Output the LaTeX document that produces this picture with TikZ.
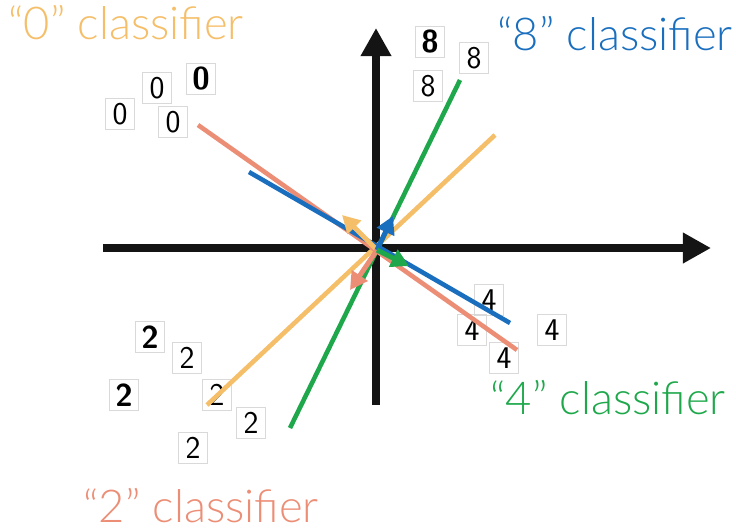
\documentclass[tikz,border=0pt]{standalone}
\usepackage{fontspec}
\IfFontExistsTF{Lato Light}{\setmainfont{Lato Light}}{\setmainfont{Lato}}
\usetikzlibrary{arrows.meta,positioning}
\definecolor{zeroc}{RGB}{245,190,105}
\definecolor{twoc}{RGB}{236,142,118}
\definecolor{fourc}{RGB}{30,168,75}
\definecolor{eightc}{RGB}{25,110,190}
\tikzset{
  digit/.style={draw=black!15, line width=0.5pt, minimum width=16.5pt, minimum height=17.5pt,
    inner sep=0pt, font=\sffamily\fontsize{18}{18}\selectfont},
  axis/.style={line width=4.4pt, draw=black!92, -{Triangle[length=16pt,width=16.5pt]}},
  boundary/.style={line width=2.6pt},
  weight/.style={line width=2.8pt, -{Triangle[length=10pt,width=10.5pt]}},
  label/.style={anchor=base west, inner sep=0pt, font=\fontsize{25.8}{26}\selectfont}
}

\begin{document}
\begin{tikzpicture}[x=0.02cm,y=-0.02cm]
  \useasboundingbox (0,0) rectangle (736,529);
  % The sample digits
  \node[digit] (zeroA) at (120,114) {0};
  \node[digit] (zeroB) at (157,88) {0};
  \node[digit] (zeroC) at (201,79) {\bfseries 0};
  \node[digit] (zeroD) at (173,122) {0};
  \node[digit] (eightA) at (430,42) {\bfseries 8};
  \node[digit] (eightB) at (474,58) {8};
  \node[digit] (eightC) at (428,86) {8};
  \node[digit] (twoA) at (150,337) {\bfseries 2};
  \node[digit] (twoB) at (187,358) {2};
  \node[digit] (twoC) at (124,395) {\bfseries 2};
  \node[digit] (twoD) at (217,395) {2};
  \node[digit] (twoE) at (251,423) {2};
  \node[digit] (twoF) at (193,448) {2};
  \node[digit] (fourA) at (489,300) {4};
  \node[digit] (fourB) at (472,330) {4};
  \node[digit] (fourC) at (504,358) {4};
  \node[digit] (fourD) at (552,330) {4};
  % Axes
  \coordinate (O) at (377,250);
  \coordinate (xl) at (103,248);
  \coordinate (xr) at (711,248);
  \coordinate (yb) at (376,405);
  \coordinate (yt) at (376,28);
  \draw[axis] (xl) -- (xr);
  \draw[axis] (yb) -- (yt);
  % Decision boundaries
  \coordinate (zeroS) at (207,405);
  \coordinate (zeroE) at (495,135);
  \coordinate (twoS) at (198,125);
  \coordinate (twoE) at (517,350);
  \coordinate (eightS) at (249,172);
  \coordinate (eightE) at (510,323);
  \coordinate (fourS) at (290,428);
  \coordinate (fourE) at (460,80);
  \draw[boundary, zeroc] (zeroS) -- (zeroE);
  \draw[boundary, twoc] (twoS) -- (twoE);
  \draw[boundary, eightc] (eightS) -- (eightE);
  \draw[boundary, fourc] (fourS) -- (fourE);
  % Weight vectors
  \coordinate (zeroW) at (342,215);
  \coordinate (twoW) at (350,290);
  \coordinate (eightW) at (393,216);
  \coordinate (fourW) at (409,266);
  \draw[weight, zeroc] (O) -- (zeroW);
  \draw[weight, twoc] (O) -- (twoW);
  \draw[weight, eightc] (O) -- (eightW);
  \draw[weight, fourc] (O) -- (fourW);
  % Labels
  \node[label, zeroc] (zeroL) at (8,39) {“0” classifier};
  \node[label, eightc] (eightL) at (497,50) {“8” classifier};
  \node[label, fourc] (fourL) at (490,414) {“4” classifier};
  \node[label, twoc] (twoL) at (83,522) {“2” classifier};
\end{tikzpicture}
\end{document}
